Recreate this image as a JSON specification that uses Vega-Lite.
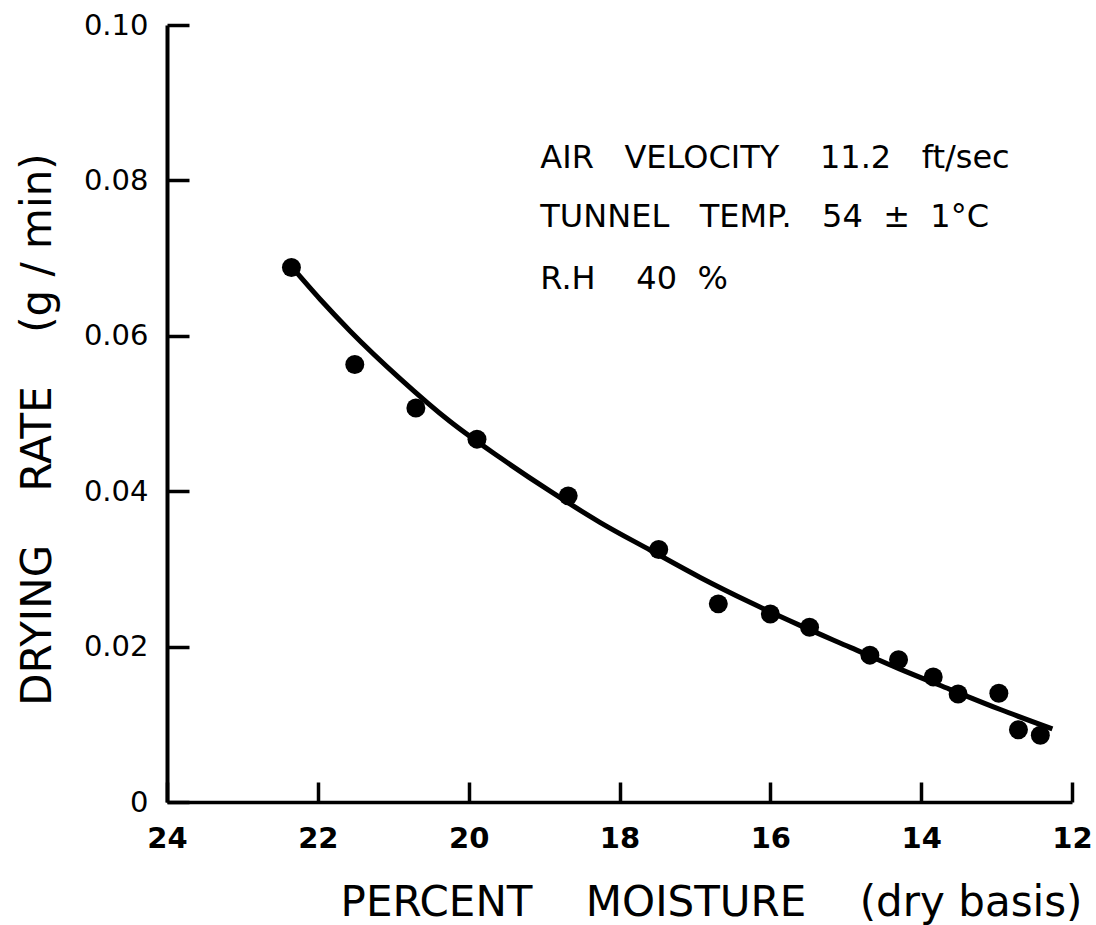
{
  "$schema": "https://vega.github.io/schema/vega-lite/v6.json",
  "width": 905,
  "height": 777,
  "autosize": "none",
  "padding": {"left": 167, "top": 25, "right": 24, "bottom": 123},
  "background": "white",
  "config": {
    "view": {"stroke": null},
    "font": "DejaVu Sans",
    "axis": {"grid": false, "domainColor": "black", "tickColor": "black", "labelColor": "black", "titleColor": "black", "labelFlush": false}
  },
  "datasets": {
    "points": [
      {"moisture": 22.35, "rate": 0.0688},
      {"moisture": 21.51, "rate": 0.0563},
      {"moisture": 20.70, "rate": 0.0507},
      {"moisture": 19.89, "rate": 0.0467},
      {"moisture": 18.68, "rate": 0.0394},
      {"moisture": 17.48, "rate": 0.0325},
      {"moisture": 16.69, "rate": 0.0255},
      {"moisture": 16.00, "rate": 0.0242},
      {"moisture": 15.48, "rate": 0.0225},
      {"moisture": 14.68, "rate": 0.0189},
      {"moisture": 14.30, "rate": 0.0183},
      {"moisture": 13.84, "rate": 0.0161},
      {"moisture": 13.51, "rate": 0.0139},
      {"moisture": 12.97, "rate": 0.0140},
      {"moisture": 12.71, "rate": 0.0093},
      {"moisture": 12.42, "rate": 0.0086}
    ],
    "curve": [
      {"moisture": 22.34, "rate": 0.0688},
      {"moisture": 21.97, "rate": 0.0647},
      {"moisture": 21.57, "rate": 0.0606},
      {"moisture": 20.91, "rate": 0.0545},
      {"moisture": 20.25, "rate": 0.0490},
      {"moisture": 19.58, "rate": 0.0443},
      {"moisture": 18.92, "rate": 0.0400},
      {"moisture": 18.26, "rate": 0.0360},
      {"moisture": 17.59, "rate": 0.0324},
      {"moisture": 16.93, "rate": 0.0289},
      {"moisture": 16.27, "rate": 0.0257},
      {"moisture": 15.60, "rate": 0.0227},
      {"moisture": 14.94, "rate": 0.0199},
      {"moisture": 14.28, "rate": 0.0171},
      {"moisture": 13.62, "rate": 0.0145},
      {"moisture": 12.95, "rate": 0.0119},
      {"moisture": 12.26, "rate": 0.0094}
    ],
    "notes": [
      {"moisture": 19.05, "rate": 0.0816, "label": "AIR\u00a0\u00a0\u00a0VELOCITY\u00a0\u00a0\u00a0\u00a011.2\u00a0\u00a0\u00a0ft/sec"},
      {"moisture": 19.05, "rate": 0.0740, "label": "TUNNEL\u00a0\u00a0\u00a0TEMP.\u00a0\u00a0\u00a054\u00a0\u00a0±\u00a0\u00a01°C"},
      {"moisture": 19.05, "rate": 0.0660, "label": "R.H\u00a0\u00a0\u00a0\u00a040\u00a0\u00a0%"}
    ]
  },
  "layer": [
    {
      "data": {"name": "curve"},
      "mark": {"type": "line", "color": "black", "strokeWidth": 5, "interpolate": "monotone"},
      "encoding": {
        "x": {
          "field": "moisture", "type": "quantitative",
          "scale": {"domain": [24, 12], "nice": false, "zero": false},
          "axis": {
            "values": [24, 22, 20, 18, 16, 14, 12],
            "format": "d",
            "domainWidth": 3.5, "tickWidth": 3.5, "tickSize": -20,
            "labelFontSize": 29, "labelFontWeight": "bold", "labelPadding": 42,
            "title": "PERCENT\u00a0\u00a0\u00a0\u00a0MOISTURE\u00a0\u00a0\u00a0\u00a0(dry basis)",
            "titleFontSize": 42, "titleFontWeight": "normal",
            "titleX": 544, "titleY": 113, "titleAlign": "center", "titleBaseline": "alphabetic"
          }
        },
        "y": {
          "field": "rate", "type": "quantitative",
          "scale": {"domain": [0, 0.1], "nice": false},
          "axis": {
            "values": [0, 0.02, 0.04, 0.06, 0.08, 0.1],
            "labelExpr": "datum.value == 0 ? '0' : format(datum.value, '.2f')",
            "domainWidth": 4, "tickWidth": 3.5, "tickSize": -22,
            "labelFontSize": 29, "labelPadding": 41,
            "title": "DRYING\u00a0\u00a0\u00a0\u00a0RATE\u00a0\u00a0\u00a0\u00a0(g / min)",
            "titleFontSize": 42, "titleFontWeight": "normal",
            "titleX": -117, "titleY": 404, "titleAlign": "center", "titleBaseline": "alphabetic", "titleAngle": -90
          }
        }
      }
    },
    {
      "data": {"name": "points"},
      "mark": {"type": "point", "filled": true, "color": "black", "size": 360, "shape": "circle", "opacity": 1},
      "encoding": {
        "x": {"field": "moisture", "type": "quantitative"},
        "y": {"field": "rate", "type": "quantitative"}
      }
    },
    {
      "data": {"name": "notes"},
      "mark": {"type": "text", "align": "left", "baseline": "alphabetic", "fontSize": 32, "color": "black"},
      "encoding": {
        "x": {"field": "moisture", "type": "quantitative"},
        "y": {"field": "rate", "type": "quantitative"},
        "text": {"field": "label"}
      }
    }
  ]
}
